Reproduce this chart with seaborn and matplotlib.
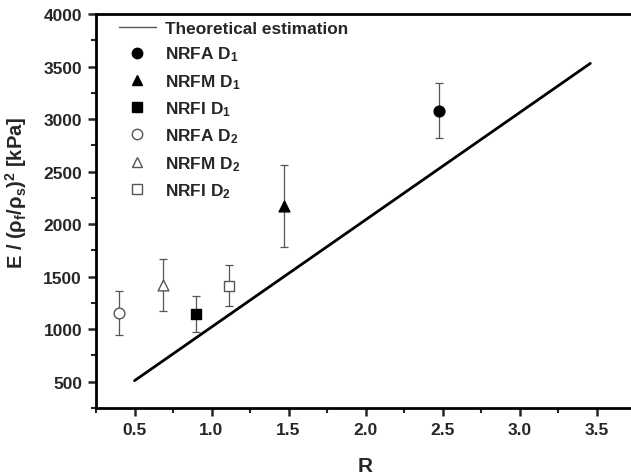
import matplotlib
matplotlib.use("Agg")
import matplotlib.pyplot as plt
import seaborn as sns
from matplotlib.lines import Line2D
from matplotlib.ticker import MultipleLocator

# theoretical estimation line (endpoints)
theory_r = [0.5, 3.46]
theory_e = [510, 3530]

# measured samples
labels = ["NRFA D$_1$", "NRFM D$_1$", "NRFI D$_1$", "NRFA D$_2$", "NRFM D$_2$", "NRFI D$_2$"]
r_vals = [2.475, 1.468, 0.897, 0.40, 0.686, 1.115]
e_vals = [3080, 2170, 1145, 1155, 1420, 1415]
e_err = [262, 390, 168, 212, 245, 192]
markers = ["o", "^", "s", "o", "^", "s"]
filled = [True, True, True, False, False, False]

sns.set_style("ticks")
plt.rcParams["font.family"] = ["Liberation Sans", "DejaVu Sans"]
plt.rcParams["font.weight"] = "bold"
plt.rcParams["mathtext.fontset"] = "custom"
plt.rcParams["mathtext.rm"] = "Liberation Sans:bold"
plt.rcParams["mathtext.bf"] = "Liberation Sans:bold"
plt.rcParams["mathtext.it"] = "Liberation Sans"
plt.rcParams["mathtext.default"] = "bf"

fig = plt.figure(figsize=(6.31, 4.77), dpi=100)
ax = fig.add_axes([96 / 631, 68 / 477, 539 / 631, 394 / 477])

sns.lineplot(x=theory_r, y=theory_e, ax=ax, color="black", linewidth=2, legend=False)

handles = [Line2D([], [], color="#555555", linewidth=1)]
for r, e, err, m, f, lab in zip(r_vals, e_vals, e_err, markers, filled, labels):
    ax.errorbar(r, e, yerr=err, fmt="none", ecolor="#555555", elinewidth=0.9,
                capsize=3, capthick=0.9, zorder=2)
    size = {"o": 60, "^": 60, "s": 48}[m]
    sns.scatterplot(x=[r], y=[e], ax=ax, marker=m, s=size,
                    color="black" if f else "white",
                    edgecolor="black" if f else "#555555",
                    linewidth=1.0, legend=False, zorder=3)
    handles.append(Line2D([], [], linestyle="none", marker=m,
                          markersize=7.5 if m != "s" else 6.5,
                          markerfacecolor="black" if f else "white",
                          markeredgecolor="black" if f else "#555555",
                          markeredgewidth=1.0))
leg_labels = ["Theoretical estimation"] + labels

ax.set_xlim(0.25, 3.75)
ax.set_ylim(250, 4000)
ax.xaxis.set_major_locator(MultipleLocator(0.5))
ax.xaxis.set_minor_locator(MultipleLocator(0.25))
ax.yaxis.set_major_locator(MultipleLocator(500))
ax.yaxis.set_minor_locator(MultipleLocator(250))
ax.tick_params(which="major", direction="out", length=6, width=1.8, labelsize=12.5, pad=4)
ax.tick_params(which="minor", direction="out", length=3.5, width=1.5)
for lab in ax.get_xticklabels() + ax.get_yticklabels():
    lab.set_fontweight("bold")

for side in ["left", "bottom", "top"]:
    ax.spines[side].set_visible(True)
    ax.spines[side].set_linewidth(2)
    ax.spines[side].set_color("black")
ax.spines["right"].set_visible(False)

ax.set_xlabel("R", fontsize=15, fontweight="bold", labelpad=14)
ax.set_ylabel(r"E / ($\rho_f/\rho_s$)$^2$ [kPa]", fontsize=14.5, fontweight="bold")
ax.yaxis.set_label_coords(-0.124, 0.55)

leg = ax.legend(handles, leg_labels, loc="upper left", frameon=False, fontsize=12.4,
                handlelength=2.2, labelspacing=0.5, borderaxespad=0.0,
                bbox_to_anchor=(0.029, 1.0), handletextpad=0.5)
for t in leg.get_texts():
    t.set_fontweight("bold")

fig.savefig("out.png", dpi=100)
